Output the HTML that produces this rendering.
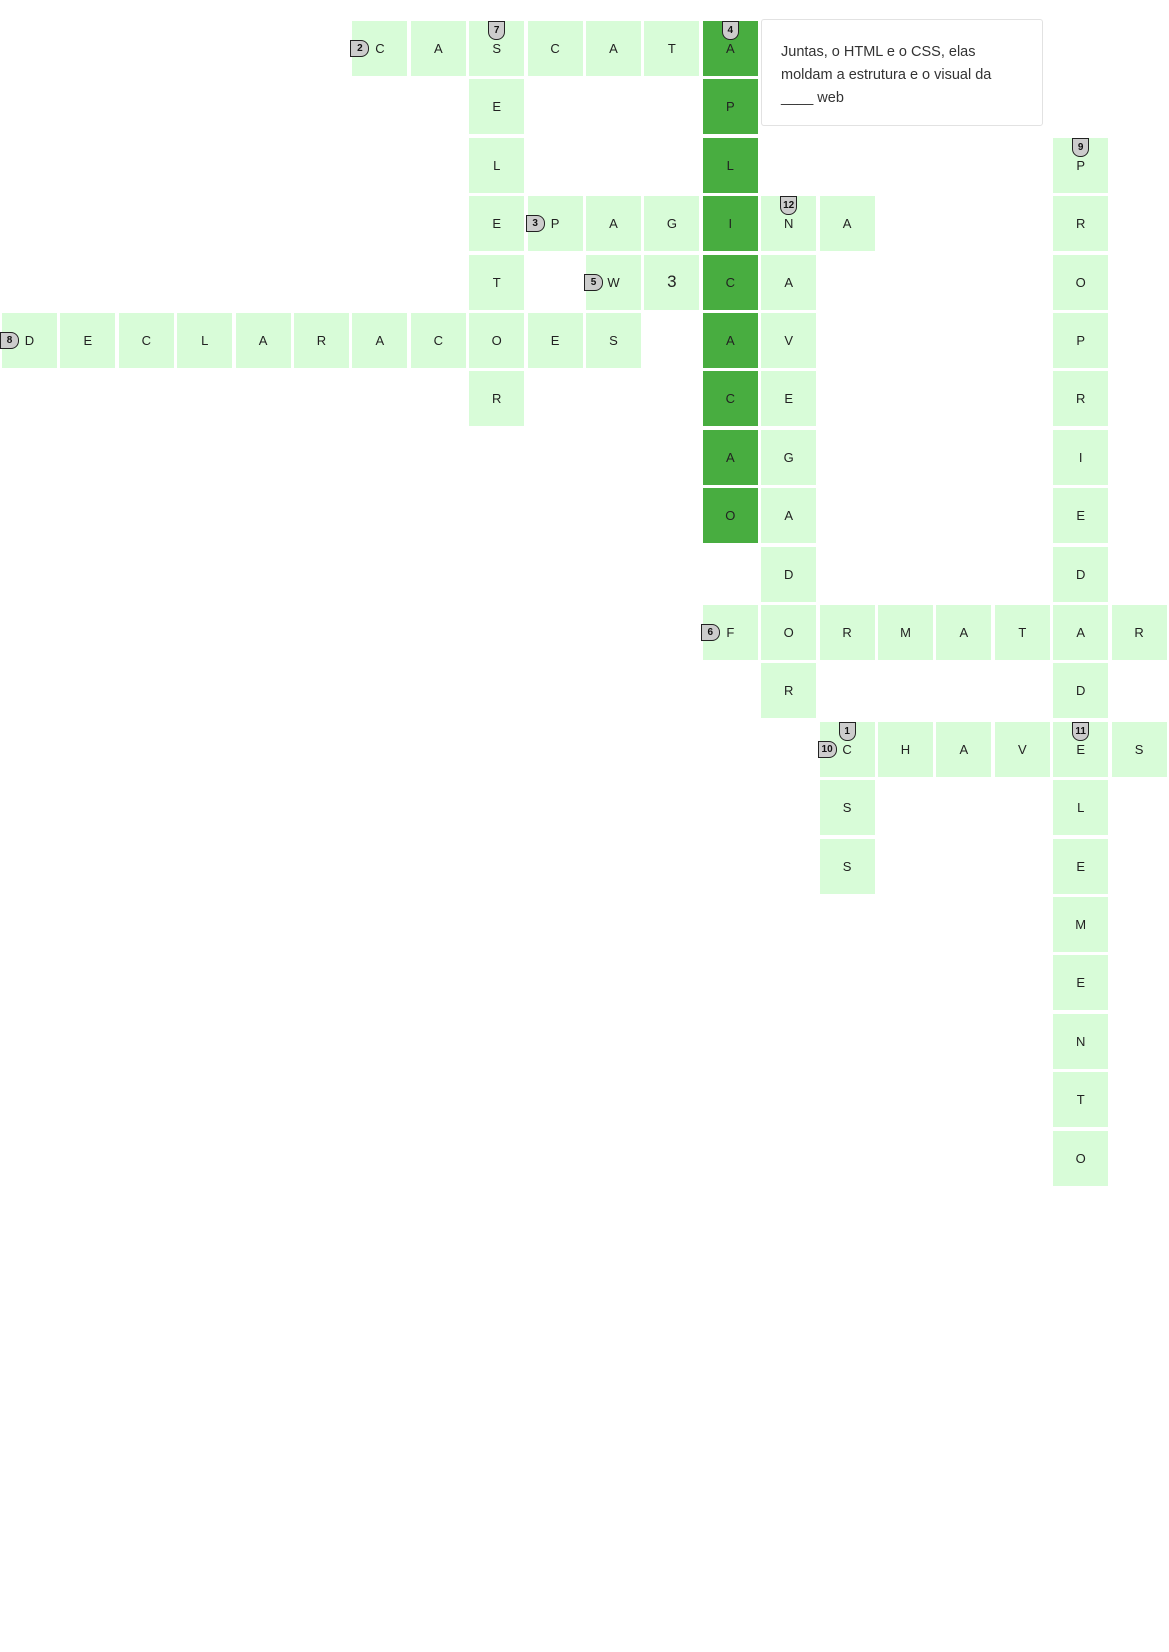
<!DOCTYPE html>
<html><head><meta charset="utf-8">
<style>
body{margin:0;width:1169px;height:1652px;background:#fff;position:relative;font-family:"Liberation Sans",sans-serif;overflow:hidden}
.cell{position:absolute;width:55px;height:55px;background:#d8fcd8;color:#222;font-size:13px;display:flex;align-items:center;justify-content:center}
.cell.dark{background:#48ad40}
.badge{position:absolute;background:#ccc;border:1px solid #222;font-size:10px;font-weight:bold;color:#111;display:flex;align-items:center;justify-content:center;box-sizing:border-box}
.bv{width:17px;height:19px;border-radius:0 0 8px 8px}
.bh{width:19px;height:17px;border-radius:0 8px 8px 0}
.tip{position:absolute;left:761px;top:19px;width:282px;height:107px;border:1px solid #e2e2e2;border-radius:3px;box-sizing:border-box;padding:21px 40px 21px 19px;font-size:14.5px;line-height:23px;color:#333;background:#fff}
</style></head><body>
<div id="grid"></div>
<div class="tip">Juntas, o HTML e o CSS, elas moldam a estrutura e o visual da ____ web</div>
<script>
const words=[
 {n:2,w:"CASCATA",c:6,r:0,d:"h"},
 {n:7,w:"SELETOR",c:8,r:0,d:"v"},
 {n:4,w:"APLICACAO",c:12,r:0,d:"v",dark:true},
 {n:3,w:"PAGINA",c:9,r:3,d:"h"},
 {n:5,w:"W3",c:10,r:4,d:"h"},
 {n:8,w:"DECLARACOES",c:0,r:5,d:"h"},
 {n:12,w:"NAVEGADOR",c:13,r:3,d:"v"},
 {n:9,w:"PROPRIEDADE",c:18,r:2,d:"v"},
 {n:11,w:"ELEMENTO",c:18,r:12,d:"v"},
 {n:6,w:"FORMATAR",c:12,r:10,d:"h"},
 {n:10,w:"CHAVES",c:14,r:12,d:"h"},
 {n:1,w:"CSS",c:14,r:12,d:"v"}
];
const X=c=>2+c*58.4, Y=r=>21+r*58.4;
const g=document.getElementById('grid');
const cells={};
words.forEach(o=>{
 [...o.w].forEach((ch,i)=>{
  const c=o.c+(o.d=="h"?i:0), r=o.r+(o.d=="v"?i:0), k=c+","+r;
  let el=cells[k];
  if(!el){
   el=document.createElement('div');
   el.className='cell';
   
   
   el.style.left=X(c)+'px';el.style.top=Y(r)+'px';
   el.textContent=ch;
   if(ch=="3")el.style.fontSize="17px";
   g.appendChild(el);cells[k]=el;
  }
  if(o.dark)el.classList.add('dark');
 });
 const b=document.createElement('div');
 b.className='badge '+(o.d=="v"?'bv':'bh');
 
 
 b.textContent=o.n;
 if(o.d=="v"){b.style.left=(X(o.c)+19)+'px';b.style.top=Y(o.r)+'px';}
 else{b.style.left=X(o.c)-2+'px';b.style.top=(Y(o.r)+19)+'px';}
 g.appendChild(b);
});
</script>
</body></html>
